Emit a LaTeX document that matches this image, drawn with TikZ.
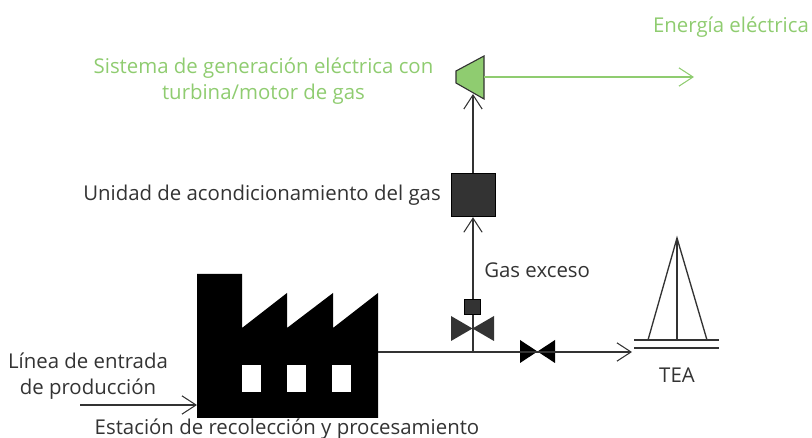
\documentclass[tikz,border=0pt]{standalone}
\usepackage{fontspec}
\setmainfont{Open Sans}
\usetikzlibrary{arrows.meta}
\usetikzlibrary{positioning}
\definecolor{mgreen}{rgb}{0.56, 0.80, 0.44}
\definecolor{mdark}{rgb}{0.2, 0.2, 0.2}
\tikzset{
  pipe/.style={mdark, line width=0.95pt},
  flow/.style={-{Straight Barb[length=10pt, width=13pt, line width=0.75pt]}},
  label/.style={inner sep=0, font=\fontsize{14.5}{18}\selectfont, align=center, text=mdark},
  greenlabel/.style={label, text=mgreen}
}
\begin{document}
\begin{tikzpicture}[x=0.025cm, y=-0.025cm]
    \useasboundingbox (0, 0) rectangle (812, 438);

    % factory
    \fill [black] (197, 274) -- (242, 274) -- (242, 328) -- (287, 293) -- (287, 328) -- (333, 293) -- (333, 328) -- (378, 293) -- (378, 418) -- (197, 418) -- cycle;
    \foreach \x in {242, 287, 332}
        \fill [white] (\x, 365) rectangle (\x + 19, 392);
    \coordinate (factoryin) at (197, 405);
    \coordinate (factoryout) at (378, 352);
    \coordinate (prodin) at (80, 405);

    % turbine
    \draw [fill=mgreen, draw=mdark, line width=0.8pt] (456, 71) -- (484, 56) -- (484, 99) -- (456, 83) -- cycle;
    \coordinate (turbineout) at (484, 77);
    \coordinate (turbinein) at (473, 94);
    \coordinate (gridout) at (694, 77);

    \node [draw=black, fill=mdark, minimum size=31pt, inner sep=0, line width=0.6pt] (conditioner) at (473.5, 195) {};
    \node [draw=black, fill=mdark, minimum size=11pt, inner sep=0, line width=0.6pt] (actuator) at (472.5, 307) {};

    % valves
    \fill [mdark] (451, 316) -- (494, 341) -- (494, 316) -- (451, 341) -- cycle;
    \fill [black] (520, 340) -- (555, 363) -- (555, 340) -- (520, 363) -- cycle;
    \coordinate (tee) at (473, 352);
    \coordinate (flarein) at (632, 352);

    % flare
    \draw [pipe] (634, 340) -- (719, 340);
    \draw [pipe] (634, 348) -- (719, 348);
    \draw [pipe] (648, 340) -- (677, 238) -- (707, 340);
    \draw [pipe] (677, 238) -- (677, 340);

    \draw [pipe, flow] (prodin) -- (factoryin);
    \draw [pipe, flow] (factoryout) -- (flarein);
    \draw [pipe] (tee) -- (tee |- actuator.south);
    \draw [pipe, flow] (tee |- actuator.north) -- (tee |- conditioner.south);
    \draw [pipe, flow] (tee |- conditioner.north) -- (turbinein);
    \draw [mgreen, line width=0.95pt, flow] (turbineout) -- (gridout);

    \node [greenlabel] (energia) at (731, 27) {Energía eléctrica};
    \node [greenlabel] (sistema) at (263.5, 81) {Sistema de generación eléctrica con\\turbina/motor de gas};
    \node [label, anchor=east] (unidad) at (441, 195) {Unidad de acondicionamiento del gas};
    \node [label, anchor=west] (exceso) at (484, 270) {Gas exceso};
    \node [label] (tea) at (677, 375) {TEA};
    \node [label] (linea) at (88, 376) {Línea de entrada\\de producción};
    \node [label] (estacion) at (287, 429) {Estación de recolección y procesamiento};
\end{tikzpicture}
\end{document}
